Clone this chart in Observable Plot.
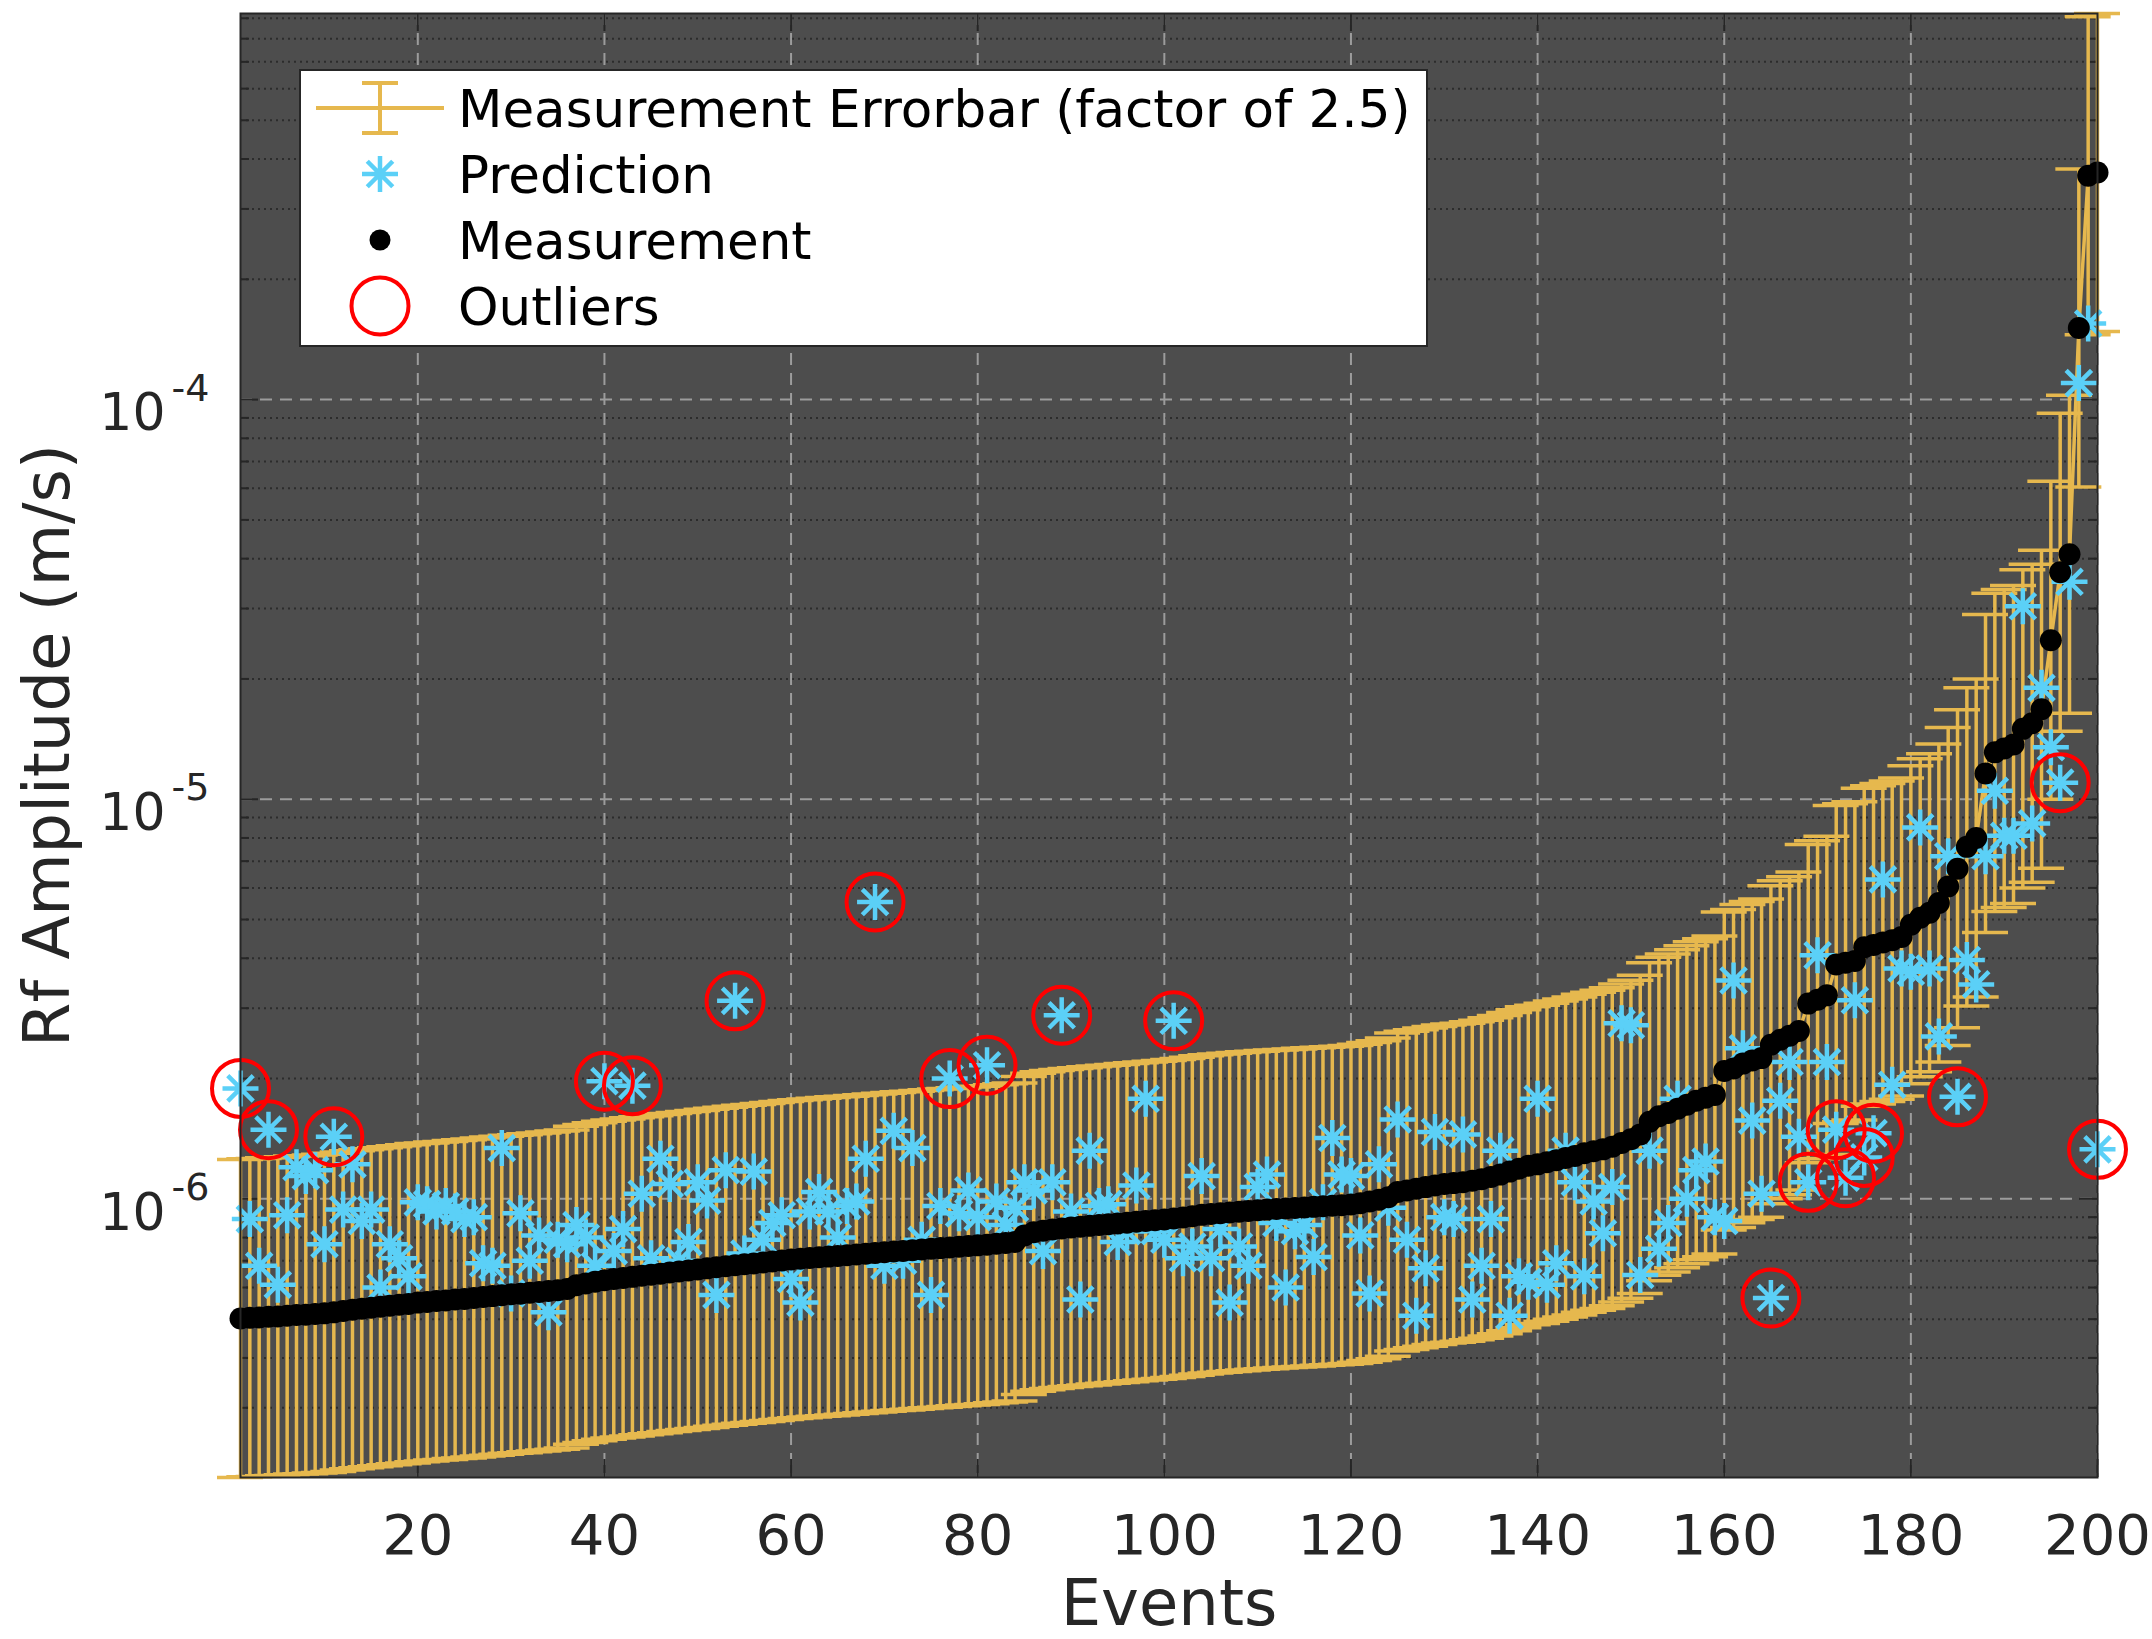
<!DOCTYPE html>
<html>
<head>
<meta charset="utf-8">
<script src="https://cdn.jsdelivr.net/npm/d3@7"></script>
<script src="https://cdn.jsdelivr.net/npm/@observablehq/plot@0.6"></script>
<style>
  html, body { margin: 0; padding: 0; background: #ffffff; }
  #chart { position: relative; width: 2152px; height: 1639px; overflow: hidden; }
  #chart svg { display: block; }
  #legend { position: absolute; left: 0; top: 0; }
</style>
</head>
<body>
<div id="chart"></div>
<script>
// Rf amplitudes per event, in units of 1e-7 m/s (events sorted by measured amplitude)
const measurementE7 = [
  5.02, 5.04, 5.05, 5.07, 5.08, 5.10, 5.12, 5.13, 5.15, 5.17,
  5.20, 5.24, 5.28, 5.31, 5.34, 5.37, 5.40, 5.43, 5.46, 5.50,
  5.52, 5.55, 5.57, 5.60, 5.62, 5.65, 5.68, 5.71, 5.74, 5.77,
  5.79, 5.82, 5.85, 5.88, 5.91, 5.95, 6.08, 6.14, 6.20, 6.26,
  6.30, 6.34, 6.38, 6.42, 6.46, 6.50, 6.54, 6.58, 6.62, 6.66,
  6.70, 6.74, 6.78, 6.82, 6.86, 6.89, 6.93, 6.97, 7.01, 7.05,
  7.08, 7.11, 7.14, 7.17, 7.20, 7.23, 7.26, 7.29, 7.32, 7.35,
  7.38, 7.41, 7.44, 7.47, 7.50, 7.53, 7.56, 7.59, 7.62, 7.65,
  7.68, 7.72, 7.76, 7.80, 8.10, 8.25, 8.32, 8.38, 8.43, 8.48,
  8.52, 8.56, 8.60, 8.64, 8.68, 8.72, 8.76, 8.80, 8.84, 8.88,
  8.93, 8.98, 9.05, 9.12, 9.17, 9.21, 9.25, 9.29, 9.33, 9.37,
  9.40, 9.43, 9.46, 9.49, 9.52, 9.55, 9.58, 9.61, 9.64, 9.68,
  9.75, 9.85, 9.95, 10.1, 10.4, 10.5, 10.6, 10.7, 10.8, 10.9,
  10.95, 11.0, 11.1, 11.2, 11.35, 11.5, 11.7, 11.9, 12.1, 12.2,
  12.35, 12.5, 12.65, 12.8, 13.0, 13.15, 13.3, 13.5, 13.8, 14.1,
  14.5, 15.6, 16.1, 16.4, 16.8, 17.2, 17.6, 17.9, 18.2, 20.9,
  21.2, 21.8, 22.2, 22.5, 24.3, 25.0, 25.6, 26.3, 30.8, 31.5,
  32.3, 38.6, 39.0, 39.4, 42.6, 43.2, 43.8, 44.4, 45.2, 48.5,
  50.5, 52.0, 55.0, 60.5, 67.0, 76.0, 80.0, 116, 131, 134,
  137, 150, 155, 168, 250, 370, 410, 1510, 3630, 3700
];

const predictionE7 = [
  18.9, 8.9, 6.8, 14.9, 6.1, 9.1, 12.0, 11.4, 11.8, 7.7,
  14.3, 9.4, 12.2, 8.8, 9.4, 6.0, 7.7, 7.1, 6.4, 9.8,
  9.7, 9.3, 9.6, 9.3, 8.9, 9.0, 6.9, 6.8, 13.4, 5.8,
  9.2, 7.0, 8.1, 5.2, 7.9, 7.7, 8.6, 8.0, 6.8, 19.7,
  7.4, 8.4, 19.2, 10.3, 7.1, 12.6, 10.9, 7.0, 7.8, 11.0,
  9.9, 5.75, 11.8, 31.3, 7.3, 11.7, 7.9, 8.7, 9.1, 6.3,
  5.5, 9.3, 10.4, 9.3, 8.0, 9.6, 9.85, 12.6, 55.3, 6.8,
  14.8, 7.0, 13.4, 7.9, 5.75, 9.6, 20.0, 9.2, 10.5, 9.0,
  21.6, 9.85, 8.6, 9.5, 11.0, 10.5, 7.4, 11.0, 28.8, 9.3,
  5.6, 13.2, 9.6, 9.7, 7.8, 8.3, 10.8, 17.8, 8.3, 7.9,
  27.9, 7.1, 7.6, 11.4, 7.1, 8.4, 5.5, 7.6, 6.8, 10.7,
  11.5, 8.7, 6.0, 8.3, 8.6, 7.15, 9.8, 14.2, 11.5, 11.4,
  8.1, 5.8, 12.2, 9.5, 15.8, 7.9, 5.1, 6.7, 14.7, 9.0,
  8.9, 14.5, 5.6, 6.8, 8.9, 13.2, 5.1, 6.4, 6.2, 17.8,
  6.1, 6.9, 13.2, 11.0, 6.4, 9.85, 8.2, 10.7, 27.5, 27.2,
  6.45, 13.2, 7.5, 8.7, 17.8, 10.0, 11.8, 12.4, 9.0, 8.8,
  35.2, 23.8, 15.7, 10.3, 5.65, 17.6, 22.0, 14.3, 11.0, 40.7,
  22.0, 14.9, 11.3, 31.4, 12.7, 14.6, 63, 19.3, 37.7, 37.0,
  85, 37.7, 25.5, 72, 18.0, 39.6, 34.4, 72, 105, 81,
  81, 304, 87, 190, 135, 110, 350, 1100, 1550, 13.3
];

// events whose prediction falls outside the measurement errorbar
const outlierEvents = [1, 4, 11, 40, 43, 54, 69, 77, 81, 89, 101, 165, 169, 172, 173, 175, 176, 185, 196, 200];

const unitScale = 1e-7;
const errorFactor = 2.5;
const xTicks = [20, 40, 60, 80, 100, 120, 140, 160, 180, 200];
const yMajorTicks = [1e-6, 1e-5, 1e-4];
const yTickExponents = ["-6", "-5", "-4"];
const legendLabels = ["Measurement Errorbar (factor of 2.5)", "Prediction", "Measurement", "Outliers"];
const xLabel = "Events";
const yLabel = "Rf Amplitude (m/s)";

const colors = {
  background: "#4d4d4d",
  errorbar: "#e6b84e",
  prediction: "#5bd0f7",
  measurement: "#000000",
  outlier: "#ff0000",
  axis: "#262626",
  grid: "#9c9c9c",
  minorGrid: "#2c2c2c"
};

const W = 2152, H = 1639;
const mL = 240, mR = 55, mT = 13, mB = 162;

const rows = measurementE7.map((m, i) => {
  const measurement = m * unitScale;
  return {
    event: i + 1,
    measurement,
    prediction: predictionE7[i] * unitScale,
    lower: measurement / errorFactor,
    upper: measurement * errorFactor
  };
});
const outliers = rows.filter(d => outlierEvents.includes(d.event));

const xDomain = [1, rows.length];
const yDomain = [d3.min(rows, d => d.lower), d3.max(rows, d => d.upper)];

// pixel lengths expressed in data units (for caps and inward ticks)
const plotW = W - mL - mR, plotH = H - mT - mB;
const unitsPerPx = (xDomain[1] - xDomain[0]) / plotW;
const decadesPerPx = Math.log10(yDomain[1] / yDomain[0]) / plotH;
const xSpan = px => px * unitsPerPx;
const yRatio = px => Math.pow(10, px * decadesPerPx);

const yMinorTicks = [];
for (let k = -7; k <= -4; k++) {
  for (let j = 2; j <= 9; j++) {
    const v = +(j * Math.pow(10, k)).toPrecision(3);
    if (v > yDomain[0] && v < yDomain[1]) yMinorTicks.push(v);
  }
}

// asterisk marker: horizontal, vertical and two diagonal strokes
const asterisk = {
  draw(context, size) {
    const r = Math.sqrt(size / Math.PI);
    for (let a = 0; a < 4; a++) {
      const t = a * Math.PI / 4;
      const c = Math.cos(t) * r, s = Math.sin(t) * r;
      context.moveTo(-c, -s);
      context.lineTo(c, s);
    }
  }
};

const capHalf = xSpan(23);
const majorTick = 18, minorTick = 9;
const tickStyle = {stroke: colors.axis, strokeWidth: 2};
const barWidth = 3.5;
const starRadius = 18;

const chart = Plot.plot({
  width: W,
  height: H,
  marginLeft: mL,
  marginRight: mR,
  marginTop: mT,
  marginBottom: mB,
  style: {fontFamily: "DejaVu Sans", background: "#ffffff", overflow: "visible"},
  x: {domain: xDomain, axis: null},
  y: {type: "log", domain: yDomain, axis: null},
  marks: [
    Plot.frame({fill: colors.background}),
    Plot.gridY(yMinorTicks, {stroke: colors.minorGrid, strokeOpacity: 1, strokeWidth: 2, strokeDasharray: "2,4"}),
    Plot.gridY(yMajorTicks, {stroke: colors.grid, strokeOpacity: 1, strokeWidth: 2, strokeDasharray: "12,8"}),
    Plot.gridX(xTicks, {stroke: colors.grid, strokeOpacity: 1, strokeWidth: 2, strokeDasharray: "12,8"}),

    // inward ticks on all four sides
    Plot.ruleX(xTicks, {x: d => d, y1: yDomain[0], y2: yDomain[0] * yRatio(majorTick), ...tickStyle}),
    Plot.ruleX(xTicks, {x: d => d, y1: yDomain[1], y2: yDomain[1] / yRatio(majorTick), ...tickStyle}),
    Plot.ruleY(yMajorTicks, {y: d => d, x1: xDomain[0], x2: xDomain[0] + xSpan(majorTick), ...tickStyle}),
    Plot.ruleY(yMajorTicks, {y: d => d, x1: xDomain[1], x2: xDomain[1] - xSpan(majorTick), ...tickStyle}),
    Plot.ruleY(yMinorTicks, {y: d => d, x1: xDomain[0], x2: xDomain[0] + xSpan(minorTick), ...tickStyle}),
    Plot.ruleY(yMinorTicks, {y: d => d, x1: xDomain[1], x2: xDomain[1] - xSpan(minorTick), ...tickStyle}),

    // measurement errorbars: stems, caps and the connecting line
    Plot.ruleX(rows, {x: "event", y1: "lower", y2: "upper", stroke: colors.errorbar, strokeWidth: barWidth}),
    Plot.ruleY(rows, {y: "lower", x1: d => d.event - capHalf, x2: d => d.event + capHalf, stroke: colors.errorbar, strokeWidth: barWidth}),
    Plot.ruleY(rows, {y: "upper", x1: d => d.event - capHalf, x2: d => d.event + capHalf, stroke: colors.errorbar, strokeWidth: barWidth}),
    Plot.line(rows, {x: "event", y: "measurement", stroke: colors.errorbar, strokeWidth: barWidth}),

    Plot.dot(rows, {x: "event", y: "prediction", symbol: asterisk, r: starRadius, fill: "none", stroke: colors.prediction, strokeWidth: 4.5}),
    Plot.dot(rows, {x: "event", y: "measurement", r: 11, fill: colors.measurement, stroke: "none"}),
    Plot.dot(outliers, {x: "event", y: "prediction", r: 28.5, fill: "none", stroke: colors.outlier, strokeWidth: 4}),

    Plot.frame({stroke: colors.axis, strokeWidth: 2}),

    // tick labels
    Plot.text(xTicks, {x: d => d, y: yDomain[0], text: d => String(d), dy: 59, lineAnchor: "middle", fontSize: 56, fill: colors.axis}),
    Plot.text(yMajorTicks, {x: xDomain[0], y: d => d, text: () => "10", textAnchor: "end", lineAnchor: "middle", dx: -75, dy: 14, fontSize: 52, fill: colors.axis}),
    Plot.text(yMajorTicks, {x: xDomain[0], y: d => d, text: (d, i) => yTickExponents[i], textAnchor: "end", lineAnchor: "middle", dx: -31, dy: -11, fontSize: 38, fill: colors.axis}),

    // axis titles
    Plot.text([xLabel], {frameAnchor: "bottom", textAnchor: "middle", lineAnchor: "middle", dy: 127, fontSize: 64, fill: colors.axis}),
    Plot.text([yLabel], {frameAnchor: "left", textAnchor: "middle", lineAnchor: "middle", rotate: -90, dx: -192, fontSize: 64, fill: colors.axis})
  ]
});

const container = document.getElementById("chart");
container.appendChild(chart);

// legend box drawn over the upper left of the axes
const legend = d3.select(container).append("svg")
  .attr("id", "legend")
  .attr("width", W)
  .attr("height", 400)
  .style("font-family", "DejaVu Sans");

legend.append("rect")
  .attr("x", 300).attr("y", 70).attr("width", 1127).attr("height", 276)
  .attr("fill", "#ffffff").attr("stroke", colors.axis).attr("stroke-width", 2);

const symX = 380;
const rowY = [108, 174, 240, 306];

const eb = legend.append("g").attr("stroke", colors.errorbar).attr("stroke-width", 4).attr("fill", "none");
eb.append("line").attr("x1", 316).attr("x2", 444).attr("y1", rowY[0]).attr("y2", rowY[0]);
eb.append("line").attr("x1", symX).attr("x2", symX).attr("y1", rowY[0] - 25).attr("y2", rowY[0] + 25);
eb.append("line").attr("x1", symX - 18).attr("x2", symX + 18).attr("y1", rowY[0] - 25).attr("y2", rowY[0] - 25);
eb.append("line").attr("x1", symX - 18).attr("x2", symX + 18).attr("y1", rowY[0] + 25).attr("y2", rowY[0] + 25);

legend.append("path")
  .attr("transform", `translate(${symX},${rowY[1]})`)
  .attr("d", d3.symbol(asterisk, Math.PI * starRadius * starRadius)())
  .attr("fill", "none").attr("stroke", colors.prediction).attr("stroke-width", 4.5);

legend.append("circle").attr("cx", symX).attr("cy", rowY[2]).attr("r", 10.5).attr("fill", colors.measurement);

legend.append("circle").attr("cx", symX).attr("cy", rowY[3]).attr("r", 28.5)
  .attr("fill", "none").attr("stroke", colors.outlier).attr("stroke-width", 4);

legend.selectAll("text.label")
  .data(legendLabels)
  .join("text")
  .attr("class", "label")
  .attr("x", 458)
  .attr("y", (d, i) => rowY[i] + 19)
  .attr("font-size", 51.5)
  .attr("fill", "#000000")
  .text(d => d);
</script>
</body>
</html>
